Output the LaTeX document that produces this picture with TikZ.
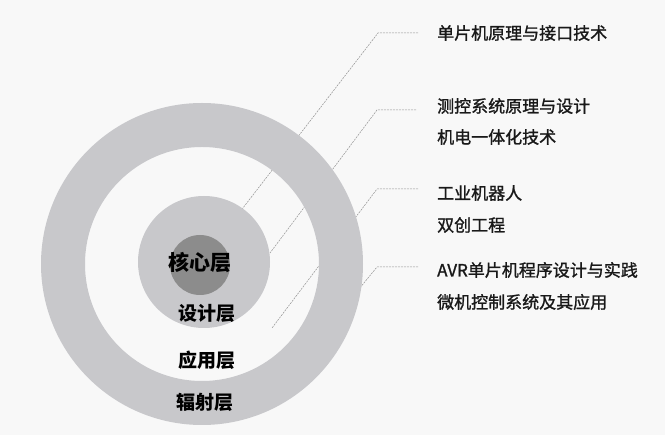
\documentclass[tikz,border=0pt]{standalone}
\usepackage{fontspec}
\newfontfamily\cjk{Noto Sans CJK SC}
\newfontfamily\cjkm[FakeBold=1.2]{Noto Sans CJK SC}
\definecolor{ringgray}{RGB}{200,200,203}
\definecolor{coregray}{RGB}{140,140,140}
\definecolor{leadgray}{RGB}{145,145,145}
\definecolor{bg}{RGB}{248,248,248}
\begin{document}
\begin{tikzpicture}[x=1pt,y=-1pt,
  lbl/.style={anchor=west, font=\cjkm\fontsize{17}{20}\selectfont, inner sep=0pt, text=black!90},
  layer/.style={font=\cjk\bfseries\fontsize{19}{22}\selectfont, inner sep=0pt},
  leader/.style={draw=leadgray, line width=0.5pt, dash pattern=on 2pt off 1pt}]
\fill[bg] (0,0) rectangle (665,435);
\useasboundingbox (0,0) rectangle (665,435);
% right labels
\node[lbl] (t1) at (437,33) {单片机原理与接口技术};
\node[lbl] (t2) at (437,106) {测控系统原理与设计};
\node[lbl] (t2b) at (437,137) {机电一体化技术};
\node[lbl] (t3) at (437,193) {工业机器人};
\node[lbl] (t3b) at (437,225) {双创工程};
\node[lbl] (t4) at (437,270) {AVR单片机程序设计与实践};
\node[lbl] (t4b) at (437,302) {微机控制系统及其应用};
% leader coordinates
\coordinate (a0) at (418,33);  \coordinate (a1) at (378,33);  \coordinate (a2) at (219,239);
\coordinate (b0) at (416,110); \coordinate (b1) at (377,110); \coordinate (b2) at (270,253);
\coordinate (c0) at (418,189); \coordinate (c1) at (377,189); \coordinate (c2) at (272,328);
\coordinate (d0) at (418,267); \coordinate (d1) at (377,267); \coordinate (d2) at (350,300);
\draw[leader] (a0) -- (a1) -- (a2);
\draw[leader] (b0) -- (b1) -- (b2);
\draw[leader] (c0) -- (c1) -- (c2);
\draw[leader] (d0) -- (d1) -- (d2);
% circles
\fill[ringgray, even odd rule] (202,264) circle[radius=161pt] (202,264) circle[radius=117pt];
\node[circle, fill=ringgray, minimum size=132pt, inner sep=0pt] (design) at (204,262) {};
\node[circle, fill=coregray, minimum size=60pt, inner sep=0pt] (core) at (200,265) {};
% layer labels
\node[layer, font=\cjk\bfseries\fontsize{21}{24}\selectfont] (hx) at (200,263) {核心层};
\node[layer] (sj) at (207,313) {设计层};
\node[layer] (yy) at (207,360) {应用层};
\node[layer] (fs) at (205,402) {辐射层};
\end{tikzpicture}
\end{document}
